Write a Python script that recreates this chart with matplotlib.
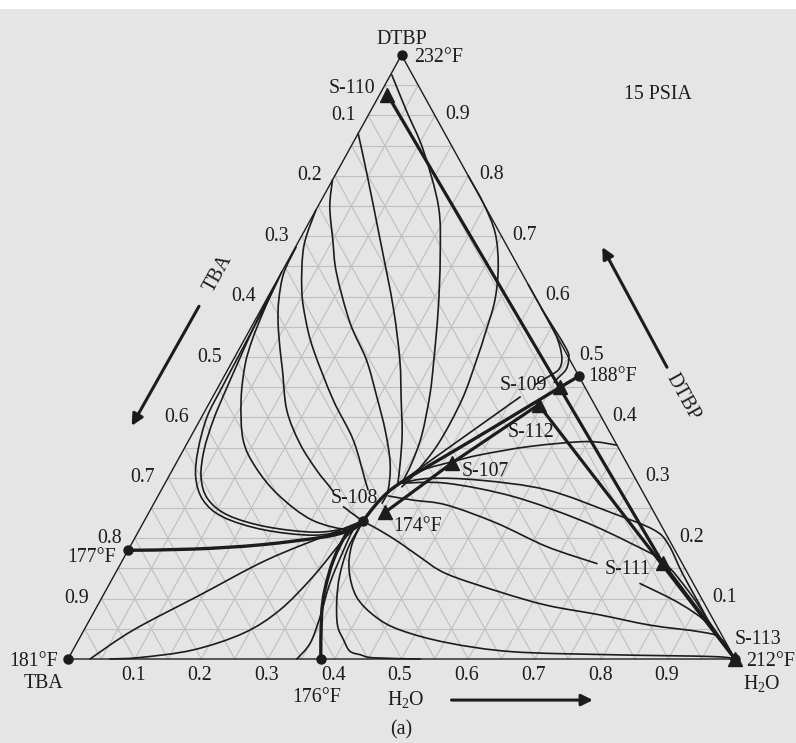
import numpy as np
import matplotlib
matplotlib.use("Agg")
import matplotlib.pyplot as plt
from matplotlib.path import Path
from matplotlib.patches import PathPatch

plt.rcParams["font.family"] = ["Liberation Serif", "DejaVu Serif"]
plt.rcParams["mathtext.fontset"] = "custom"
plt.rcParams["mathtext.rm"] = "Liberation Serif"
plt.rcParams["mathtext.it"] = "Liberation Serif:italic"

# ---------------------------------------------------------------- data
# compositions are (H2O fraction, DTBP fraction); TBA = 1 - H2O - DTBP
TICKS = [0.1, 0.2, 0.3, 0.4, 0.5, 0.6, 0.7, 0.8, 0.9]

# pure components and azeotropes
POINT_LABELS = ["232°F", "181°F", "212°F", "177°F", "176°F", "188°F", "174°F"]
POINT_H2O = [0.0, 0.0, 1.0, 0.0, 0.379, 0.532, 0.328]
POINT_DTBP = [1.0, 0.0, 0.0, 0.180, 0.0, 0.468, 0.229]

# process streams
STREAM_NAMES = ["S-110", "S-109", "S-112", "S-107", "S-108", "S-111", "S-113"]
STREAM_H2O = [0.012, 0.513, 0.495, 0.413, 0.354, 0.812, 1.0]
STREAM_DTBP = [0.934, 0.450, 0.421, 0.324, 0.243, 0.159, 0.0]

# heavy lines: separatrices from the 174 °F azeotrope
SEP177_H2O = [0.0, 0.097, 0.194, 0.287, 0.320, 0.328]
SEP177_DTBP = [0.180, 0.182, 0.189, 0.203, 0.216, 0.229]
SEP176_H2O = [0.379, 0.345, 0.328, 0.316, 0.314, 0.323, 0.328]
SEP176_DTBP = [0.0, 0.070, 0.114, 0.164, 0.208, 0.2235, 0.229]
SEP188_H2O = [0.532, 0.513, 0.453, 0.404, 0.352, 0.336, 0.328]
SEP188_DTBP = [0.468, 0.450, 0.390, 0.342, 0.291, 0.263, 0.229]

# residue curves
RC1_H2O = [0.002, 0.055, 0.111, 0.181, 0.225, 0.266, 0.301, 0.324, 0.345, 0.353, 0.355]
RC1_DTBP = [0.967, 0.906, 0.843, 0.749, 0.666, 0.578, 0.495, 0.437, 0.371, 0.326, 0.291]
RC2_H2O = [0.0, 0.046, 0.121, 0.196, 0.250, 0.285, 0.314, 0.336, 0.349]
RC2_DTBP = [0.870, 0.804, 0.694, 0.583, 0.495, 0.429, 0.374, 0.324, 0.291]
RC3_H2O = [0.0, 0.018, 0.050, 0.083, 0.145, 0.200, 0.246, 0.286, 0.321, 0.340, 0.342]
RC3_DTBP = [0.793, 0.749, 0.694, 0.639, 0.556, 0.495, 0.434, 0.379, 0.324, 0.280, 0.258]
RC4_H2O = [0.0, 0.012, 0.045, 0.076, 0.112, 0.183, 0.246, 0.299, 0.310]
RC4_DTBP = [0.743, 0.683, 0.611, 0.561, 0.512, 0.429, 0.363, 0.294, 0.280]
RC5_H2O = [0.001, 0.004, 0.019, 0.037, 0.062, 0.082, 0.122, 0.169, 0.216, 0.250, 0.258]
RC5_DTBP = [0.682, 0.639, 0.594, 0.556, 0.512, 0.479, 0.412, 0.357, 0.313, 0.285, 0.278]
RC6_H2O = [0.287, 0.325, 0.361, 0.402, 0.443, 0.497, 0.592, 0.673, 0.761, 0.845, 0.925, 0.960, 1.0]
RC6_DTBP = [0.252, 0.230, 0.213, 0.192, 0.169, 0.141, 0.111, 0.089, 0.073, 0.056, 0.045, 0.035, 0.0]
RC7_H2O = [0.001, 0.006, 0.012, 0.022, 0.045, 0.081, 0.122, 0.179, 0.251, 0.316, 0.328]
RC7_DTBP = [0.616, 0.570, 0.528, 0.487, 0.429, 0.363, 0.318, 0.272, 0.230, 0.214, 0.229]
RC8_H2O = [0.0, 0.003, 0.004, 0.005, 0.006, 0.008, 0.022, 0.041, 0.071, 0.115, 0.186, 0.265, 0.312, 0.328]
RC8_DTBP = [0.641, 0.599, 0.550, 0.500, 0.450, 0.401, 0.346, 0.301, 0.263, 0.235, 0.214, 0.205, 0.214, 0.229]
RC9_H2O = [0.001, 0.002, 0.005, 0.009, 0.014, 0.020, 0.031, 0.049, 0.077, 0.121, 0.188, 0.265, 0.311, 0.328]
RC9_DTBP = [0.619, 0.578, 0.536, 0.495, 0.445, 0.396, 0.346, 0.301, 0.265, 0.238, 0.219, 0.210, 0.217, 0.229]
RC10_H2O = [0.200, 0.246, 0.288, 0.320, 0.343, 0.356, 0.365, 0.376, 0.377, 0.367, 0.358]
RC10_DTBP = [0.800, 0.754, 0.705, 0.650, 0.594, 0.539, 0.495, 0.429, 0.357, 0.308, 0.285]
RC11_H2O = [0.380, 0.455, 0.479, 0.493, 0.496, 0.486, 0.473]
RC11_DTBP = [0.620, 0.545, 0.517, 0.495, 0.479, 0.467, 0.454]
RC12_H2O = [0.461, 0.406, 0.370, 0.352]
RC12_DTBP = [0.434, 0.363, 0.316, 0.291]
RC13_H2O = [0.420, 0.490, 0.503, 0.507, 0.502, 0.500]
RC13_DTBP = [0.580, 0.514, 0.495, 0.479, 0.465, 0.458]
RC14_H2O = [0.352, 0.376, 0.414, 0.449, 0.517, 0.598, 0.646]
RC14_DTBP = [0.291, 0.313, 0.327, 0.338, 0.352, 0.360, 0.354]
RC15_H2O = [0.352, 0.393, 0.470, 0.578, 0.697, 0.771, 0.805, 0.850, 0.899, 0.948, 1.0]
RC15_DTBP = [0.291, 0.299, 0.296, 0.280, 0.241, 0.214, 0.190, 0.142, 0.093, 0.044, 0.0]
RC16_H2O = [0.352, 0.422, 0.533, 0.653, 0.747, 0.812, 0.878, 0.930, 1.0]
RC16_DTBP = [0.291, 0.291, 0.269, 0.230, 0.192, 0.161, 0.109, 0.062, 0.0]
RC17_H2O = [0.345, 0.386, 0.440, 0.530, 0.625, 0.714]
RC17_DTBP = [0.270, 0.263, 0.255, 0.225, 0.186, 0.158]
RC18_H2O = [0.795, 0.871, 0.934, 1.0]
RC18_DTBP = [0.125, 0.092, 0.056, 0.0]
RC19_H2O = [0.328, 0.331, 0.348, 0.381, 0.426, 0.474, 0.555, 0.661, 0.814, 0.965, 1.0]
RC19_DTBP = [0.229, 0.189, 0.147, 0.103, 0.070, 0.048, 0.027, 0.012, 0.007, 0.004, 0.0]
RC20_H2O = [0.328, 0.328, 0.338, 0.354, 0.376, 0.397, 0.416, 0.435, 0.457, 0.528]
RC20_DTBP = [0.229, 0.184, 0.139, 0.098, 0.056, 0.032, 0.013, 0.007, 0.002, 0.0]
RC21_H2O = [0.343, 0.350, 0.343, 0.330, 0.323, 0.321, 0.328]
RC21_DTBP = [0.0, 0.026, 0.070, 0.125, 0.181, 0.214, 0.229]
RC22_H2O = [0.063, 0.107, 0.180, 0.242, 0.277, 0.299, 0.314, 0.328]
RC22_DTBP = [0.0, 0.0025, 0.015, 0.043, 0.081, 0.136, 0.197, 0.229]
RC23_H2O = [0.033, 0.074, 0.145, 0.216, 0.293, 0.328]
RC23_DTBP = [0.0, 0.048, 0.106, 0.164, 0.209, 0.229]

# material-balance lines between streams (indices into STREAM_NAMES)
BALANCE_LINES = [(0, 5), (5, 6), (2, 6), (2, 3), (3, 4)]

# ---------------------------------------------------------------- style
BG = "#e5e5e5"
GRID = "#bfbfbf"
INK = "#1c1c1c"
FS = 14.3


def cart(h2o, dtbp):
    h2o = np.asarray(h2o, dtype=float)
    dtbp = np.asarray(dtbp, dtype=float)
    return h2o + dtbp / 2.0, dtbp


def smooth_curve(h2o, dtbp, **kw):
    """Curve through every given composition, drawn as Bezier segments."""
    x, y = cart(h2o, dtbp)
    pts = np.column_stack([x, y])
    n = len(pts)
    verts = [pts[0]]
    codes = [Path.MOVETO]
    for i in range(n - 1):
        p0 = pts[i - 1] if i > 0 else pts[i]
        p1, p2 = pts[i], pts[i + 1]
        p3 = pts[i + 2] if i + 2 < n else pts[i + 1]
        verts += [p1 + (p2 - p0) / 6.0, p2 - (p3 - p1) / 6.0, p2]
        codes += [Path.CURVE4] * 3
    patch = PathPatch(Path(verts, codes), fill=False, capstyle="round",
                      joinstyle="round", clip_on=False, **kw)
    ax.add_patch(patch)


fig = plt.figure(figsize=(7.96, 7.43), dpi=100, facecolor=BG)
fig.patches.append(plt.Rectangle((0, 1 - 9 / 743), 1, 9 / 743,
                                 transform=fig.transFigure,
                                 facecolor="white", edgecolor="none", zorder=0))
ax = fig.add_axes([68 / 796, 84 / 743, 667 / 796, 604 / 743])
ax.set_xlim(0, 1)
ax.set_ylim(0, 1)
ax.axis("off")
ax.set_facecolor(BG)

# grid every 0.05 for all three components
for k in range(1, 20):
    v = k * 0.05
    for hh, dd in (([0, 1 - v], [v, v]),
                   ([v, v], [0, 1 - v]),
                   ([1 - v, 0], [0, 1 - v])):
        ax.plot(*cart(hh, dd), color=GRID, lw=0.8, zorder=1, clip_on=False)

# triangle outline
ax.plot(*cart([0, 1, 0, 0], [0, 0, 1, 0]), color=INK, lw=1.0, zorder=3,
        clip_on=False, solid_joinstyle="miter")

# residue curves
thin = [(RC1_H2O, RC1_DTBP), (RC2_H2O, RC2_DTBP), (RC3_H2O, RC3_DTBP),
        (RC4_H2O, RC4_DTBP), (RC5_H2O, RC5_DTBP), (RC6_H2O, RC6_DTBP),
        (RC7_H2O, RC7_DTBP), (RC8_H2O, RC8_DTBP), (RC9_H2O, RC9_DTBP),
        (RC10_H2O, RC10_DTBP), (RC11_H2O, RC11_DTBP), (RC12_H2O, RC12_DTBP),
        (RC13_H2O, RC13_DTBP), (RC14_H2O, RC14_DTBP), (RC15_H2O, RC15_DTBP),
        (RC16_H2O, RC16_DTBP), (RC17_H2O, RC17_DTBP), (RC18_H2O, RC18_DTBP),
        (RC19_H2O, RC19_DTBP), (RC20_H2O, RC20_DTBP), (RC21_H2O, RC21_DTBP),
        (RC22_H2O, RC22_DTBP), (RC23_H2O, RC23_DTBP)]
for hh, dd in thin:
    smooth_curve(hh, dd, edgecolor=INK, lw=1.2, zorder=3)

# separatrices
for hh, dd in [(SEP177_H2O, SEP177_DTBP), (SEP176_H2O, SEP176_DTBP),
               (SEP188_H2O, SEP188_DTBP)]:
    smooth_curve(hh, dd, edgecolor=INK, lw=2.4, zorder=4)

# material balance lines
for i, j in BALANCE_LINES:
    ax.plot(*cart([STREAM_H2O[i], STREAM_H2O[j]], [STREAM_DTBP[i], STREAM_DTBP[j]]),
            color=INK, lw=2.3, zorder=4, clip_on=False, solid_capstyle="round")

# markers
ax.plot(*cart(POINT_H2O, POINT_DTBP), "o", color=INK, ms=6.5, zorder=6,
        clip_on=False, ls="none")
ax.plot(*cart(STREAM_H2O, STREAM_DTBP), "^", color=INK, ms=9.5, zorder=6,
        clip_on=False, ls="none")


def label(text, h2o, dtbp, dx, dy, ha="center", **kw):
    ax.annotate(text, cart(h2o, dtbp), xytext=(dx, dy),
                textcoords="offset pixels", ha=ha, va="center",
                fontsize=kw.pop("fontsize", FS), color=INK,
                annotation_clip=False, **kw)


# edge tick labels
for v in TICKS:
    label(f"{v:.1f}", v, 0.0, -1.5, -16)          # H2O along the bottom
    label(f"{v:.1f}", 0.0, 1 - v, -25, 0)        # TBA along the left edge
    label(f"{v:.1f}", 1 - v, v, 23, 1)           # DTBP along the right edge

# vertex / azeotrope temperatures
pt = dict(zip(POINT_LABELS, zip(POINT_H2O, POINT_DTBP)))
label("232°F", *pt["232°F"], 13, -2, ha="left")
label("181°F", *pt["181°F"], -10, -2, ha="right")
label("212°F", *pt["212°F"], 11, -2, ha="left")
label("177°F", *pt["177°F"], -12, -7, ha="right")
label("176°F", *pt["176°F"], -4, -38)
label("188°F", *pt["188°F"], 9, 0, ha="left")
label("174°F", *pt["174°F"], 30, -6, ha="left")

# component names at the corners
label("DTBP", 0.0, 1.0, 0, 16)
label("TBA", 0.0, 0.0, -25, -24)
label("H$_2$O", 1.0, 0.0, 27, -24)

# stream labels
st = dict(zip(STREAM_NAMES, zip(STREAM_H2O, STREAM_DTBP)))
label("S-110", *st["S-110"], -12, 6, ha="right")
label("S-109", *st["S-109"], -13, 2, ha="right")
label("S-112", *st["S-112"], -8, -28)
label("S-107", *st["S-107"], 10, -8, ha="left")
label("S-108", *st["S-108"], -31, 14)
label("S-111", *st["S-111"], -12, -7, ha="right")
label("S-113", *st["S-113"], 0, 19, ha="left")

# axis names with direction arrows
label("H$_2$O", 0.5, 0.0, 4, -41)
label("(a)", 0.5, 0.0, 0, -71)
ax.text(0.885, 0.934, "15 PSIA", ha="center", va="center", fontsize=FS, color=INK)
ax.text(0.225, 0.639, "TBA", ha="center", va="center", rotation=61,
        rotation_mode="anchor", fontsize=FS, color=INK)
ax.text(0.922, 0.434, "DTBP", ha="center", va="center", rotation=-61,
        rotation_mode="anchor", fontsize=FS, color=INK)

arrow = dict(arrowstyle="-|>", color=INK, lw=2.2, mutation_scale=17,
             shrinkA=0, shrinkB=0)
ax.annotate("", xy=(0.0955, 0.386), xytext=(0.1964, 0.584),
            arrowprops=arrow, annotation_clip=False)
ax.annotate("", xy=(0.801, 0.682), xytext=(0.898, 0.483),
            arrowprops=arrow, annotation_clip=False)
ax.annotate("", xy=(0.787, -0.068), xytext=(0.575, -0.068),
            arrowprops=arrow, annotation_clip=False)

fig.savefig("out.png", dpi=100, facecolor=BG)
